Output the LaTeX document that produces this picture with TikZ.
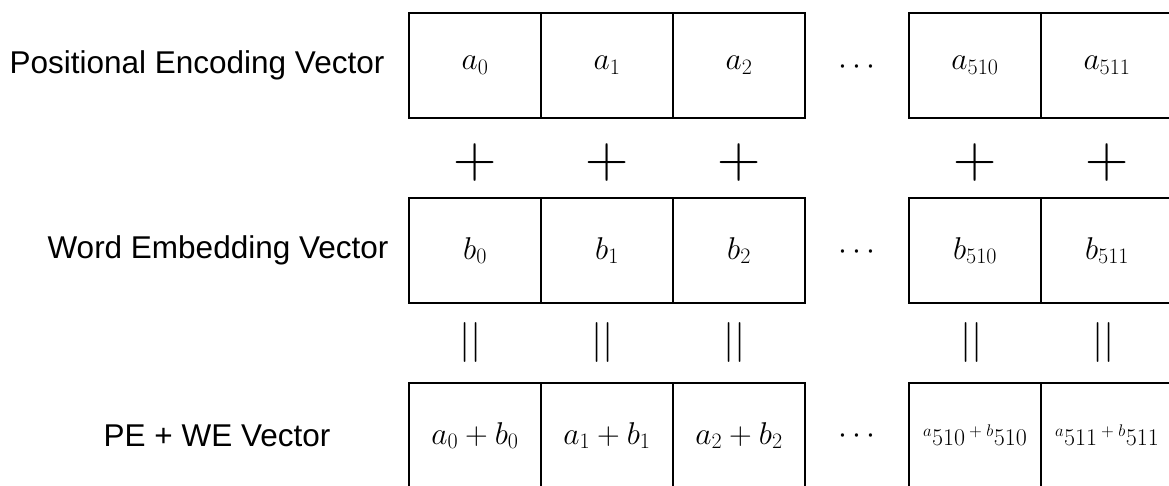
\RequirePackage{fix-cm}
\documentclass[tikz,border=0pt]{standalone}
\usepackage{fontspec}
\newfontfamily\labelfont{Liberation Sans}

\begin{document}
\begin{tikzpicture}[x=1pt, y=-1pt,
	cell/.style={draw, line width=2.2pt, minimum width=132pt, minimum height=105pt, inner sep=0pt, font=\fontsize{31.5}{36}\selectfont},
	rowlabel/.style={inner sep=0pt, font=\labelfont\fontsize{31.5}{36}\selectfont},
	plussign/.style={inner sep=0pt, font=\fontsize{60}{60}\selectfont},
	eqsign/.style={inner sep=0pt, font=\fontsize{40}{40}\selectfont},
	dotsign/.style={inner sep=0pt, font=\fontsize{32}{36}\selectfont}]
	\useasboundingbox (0, 0) rectangle (1169, 485);
	\node [rowlabel] (lblpe) at (197, 65.5) {Positional Encoding Vector};
	\node [rowlabel] (lblwe) at (218, 250.5) {Word Embedding Vector};
	\node [rowlabel] (lblsum) at (217, 435.5) {PE + WE Vector};
	\node [cell] (pe0) at (475, 65.5) {$a_0$};
	\node [cell] (pe1) at (607, 65.5) {$a_1$};
	\node [cell] (pe2) at (739, 65.5) {$a_2$};
	\node [dotsign] (pedots) at (857, 67) {$\cdots$};
	\node [cell] (pe510) at (975, 65.5) {$a_{510}$};
	\node [cell] (pe511) at (1107, 65.5) {$a_{511}$};
	\node [plussign] (plus0) at (475, 162) {$+$};
	\node [plussign] (plus1) at (607, 162) {$+$};
	\node [plussign] (plus2) at (739, 162) {$+$};
	\node [plussign] (plus510) at (975, 162) {$+$};
	\node [plussign] (plus511) at (1107, 162) {$+$};
	\node [cell] (we0) at (475, 250.5) {$b_0$};
	\node [cell] (we1) at (607, 250.5) {$b_1$};
	\node [cell] (we2) at (739, 250.5) {$b_2$};
	\node [dotsign] (wedots) at (857, 252) {$\cdots$};
	\node [cell] (we510) at (975, 250.5) {$b_{510}$};
	\node [cell] (we511) at (1107, 250.5) {$b_{511}$};
	\node [eqsign] (eq0) at (471, 342) {$||$};
	\node [eqsign] (eq1) at (603, 342) {$||$};
	\node [eqsign] (eq2) at (735, 342) {$||$};
	\node [eqsign] (eq510) at (972, 342) {$||$};
	\node [eqsign] (eq511) at (1104, 342) {$||$};
	\node [cell] (sum0) at (475, 435.5) {$a_0 + b_0$};
	\node [cell] (sum1) at (607, 435.5) {$a_1 + b_1$};
	\node [cell] (sum2) at (739, 435.5) {$a_2 + b_2$};
	\node [dotsign] (sumdots) at (857, 436) {$\cdots$};
	\node [cell, font=\fontsize{24}{28}\selectfont] (sum510) at (975, 435.5) {${}^{a}510\,{}^{+}\,{}^{b}510$};
	\node [cell, font=\fontsize{24}{28}\selectfont] (sum511) at (1107, 435.5) {${}^{a}511\,{}^{+}\,{}^{b}511$};
\end{tikzpicture}
\end{document}
